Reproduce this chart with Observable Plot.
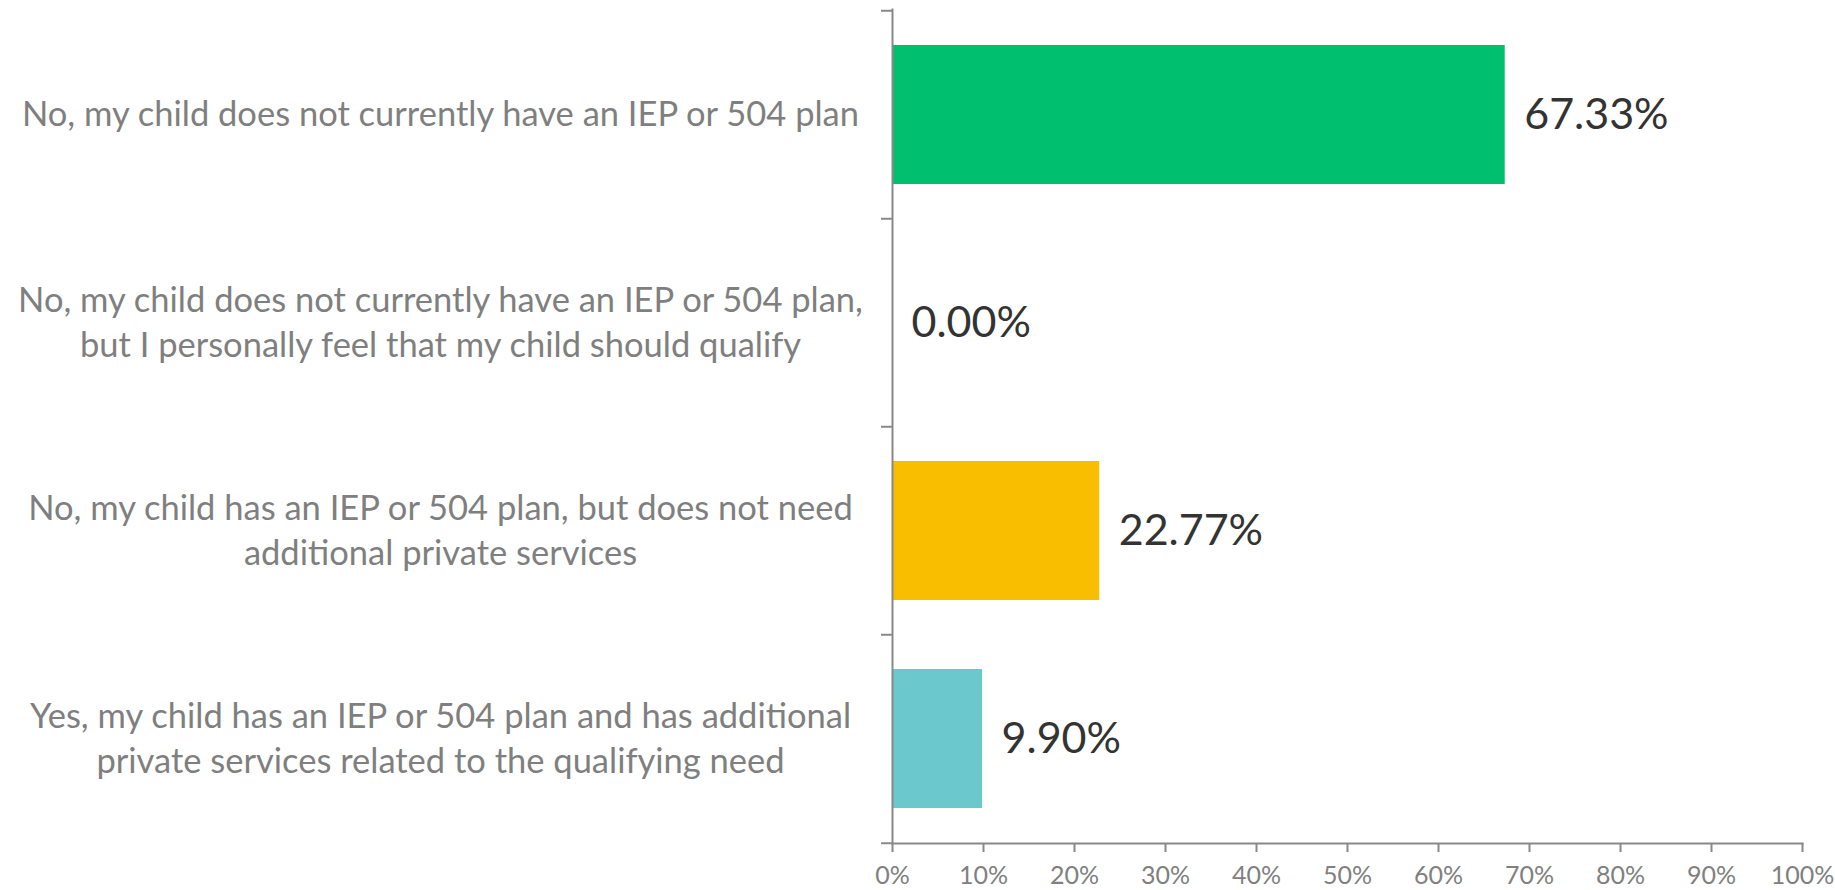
<!DOCTYPE html>
<html>
<head>
<meta charset="utf-8">
<script src="https://cdn.jsdelivr.net/npm/d3@7"></script>
<script src="https://cdn.jsdelivr.net/npm/@observablehq/plot@0.6"></script>
<style>
  html, body { margin: 0; padding: 0; background: #fff; }
  #chart svg { display: block; }
</style>
</head>
<body>
<div id="chart"></div>
<script>
const categories = [
  "No, my child does not currently have an IEP or 504 plan",
  "No, my child does not currently have an IEP or 504 plan,\nbut I personally feel that my child should qualify",
  "No, my child has an IEP or 504 plan, but does not need\nadditional private services",
  "Yes, my child has an IEP or 504 plan and has additional\nprivate services related to the qualifying need"
];
const values = [0.6733, 0.0, 0.2277, 0.099];
const colors = ["#00BF6F", "#F9BE00", "#F9BE00", "#6BC8CD"];
const xTicks = [0, 0.1, 0.2, 0.3, 0.4, 0.5, 0.6, 0.7, 0.8, 0.9, 1.0];

const data = categories.map((c, i) => ({category: c, value: values[i], color: colors[i]}));

const width = 1835, height = 890;
const marginTop = 9, marginBottom = 47, marginLeft = 892, marginRight = 33;
const step = (height - marginTop - marginBottom) / categories.length;
const axisColor = "#898989";

const chart = Plot.plot({
  width, height, marginTop, marginBottom, marginLeft, marginRight,
  style: {fontFamily: "Lato, 'Open Sans', sans-serif", background: "#fff"},
  x: {domain: [0, 1]},
  y: {domain: categories, paddingInner: 0.333, paddingOuter: 0.1665},
  marks: [
    Plot.barX(data, {x: "value", y: "category", fill: d => d.color}),
    Plot.text(data, {
      x: "value", y: "category", text: d => d3.format(".2%")(d.value),
      dx: 19, textAnchor: "start", fontSize: 43, fill: "#333333"
    }),
    // category boundary ticks on the y axis
    Plot.ruleY(categories, {y: d => d, x1: 0, x2: 0, insetLeft: -11, dy: -step / 2, stroke: axisColor, strokeWidth: 2}),
    Plot.ruleY(categories.slice(-1), {y: d => d, x1: 0, x2: 0, insetLeft: -11, dy: step / 2, stroke: axisColor, strokeWidth: 2}),
    Plot.frame({anchor: "left", stroke: axisColor, strokeWidth: 2}),
    Plot.frame({anchor: "bottom", stroke: axisColor, strokeWidth: 2}),
    Plot.axisX({
      ticks: xTicks, tickFormat: d3.format(".0%"), tickSize: 9, tickPadding: 14,
      stroke: axisColor, strokeWidth: 2, fill: "#808080", fontSize: 25, label: null
    }),
    Plot.axisY({
      tickSize: 0, tickPadding: 452, textAnchor: "middle", lineHeight: 1.3, dy: -3,
      fontSize: 34.5, fill: "#7F7F7F", label: null
    })
  ]
});
document.getElementById("chart").appendChild(chart);
</script>
</body>
</html>
